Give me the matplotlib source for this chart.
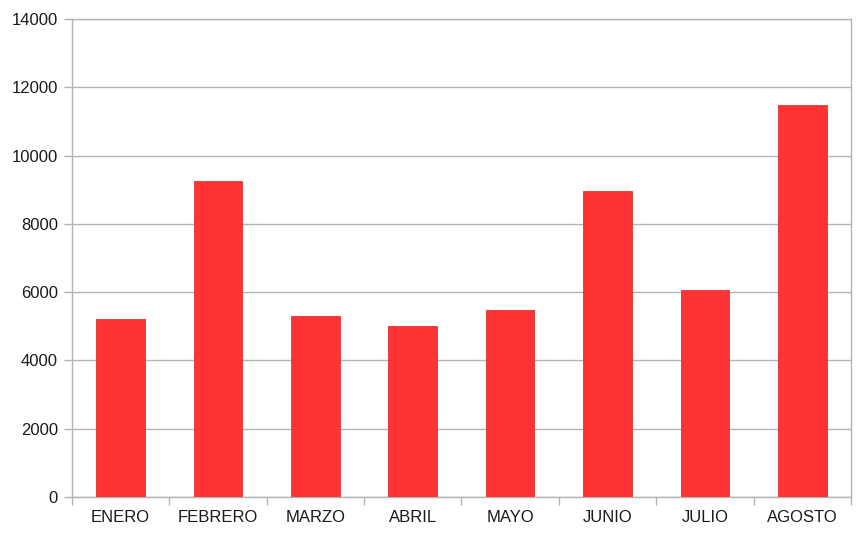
import matplotlib
matplotlib.use("Agg")
import matplotlib.pyplot as plt
import numpy as np

months = ["ENERO", "FEBRERO", "MARZO", "ABRIL", "MAYO", "JUNIO", "JULIO", "AGOSTO"]
values = [5210, 9260, 5310, 5020, 5480, 8960, 6060, 11480]
yticks = [0, 2000, 4000, 6000, 8000, 10000, 12000, 14000]

plt.rcParams['font.family'] = ['Liberation Sans', 'DejaVu Sans']
fig = plt.figure(figsize=(8.67, 5.35), dpi=100)
ax = fig.add_axes([0.083, 0.071, 0.8985, 0.8935])

x = np.arange(len(months))
ax.bar(x, values, width=0.5, color='#ff3333', edgecolor='#e83030', linewidth=0.6, zorder=3)

grey = '#b3b3b3'
ax.set_xlim(-0.5, len(months) - 0.5)
ax.set_ylim(0, 14000)
ax.set_yticks(yticks)
ax.set_yticklabels([str(v) for v in yticks], fontsize=12, color='#1a1a1a')
ax.yaxis.grid(True, color=grey, linewidth=1, zorder=0)
ax.set_xticks(x)
ax.set_xticklabels(months, fontsize=12, color='#1a1a1a')
ax.tick_params(axis='x', which='major', length=0, pad=9)
ax.set_xticks(np.arange(-0.5, len(months), 1.0), minor=True)
ax.tick_params(axis='x', which='minor', length=6, color=grey, width=1)
ax.tick_params(axis='y', length=6, color=grey, width=1, pad=4)
for s in ax.spines.values():
    s.set_color(grey)
    s.set_linewidth(1)

fig.savefig("out.png", dpi=100)
